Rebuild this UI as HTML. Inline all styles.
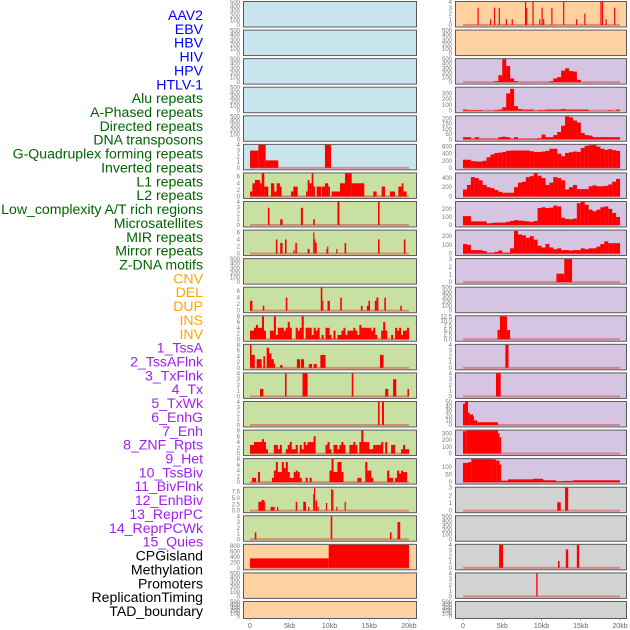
<!DOCTYPE html>
<html><head><meta charset="utf-8"><style>
html,body{margin:0;padding:0;background:#fff;}
svg{display:block;font-family:"Liberation Sans",sans-serif;}
</style></head><body>
<svg id="chart" width="630" height="630" viewBox="0 0 630 630" xmlns="http://www.w3.org/2000/svg"></svg>
<script>
const trackLabels = ["AAV2","EBV","HBV","HIV","HPV","HTLV-1","Alu repeats","A-Phased repeats","Directed repeats","DNA transposons","G-Quadruplex forming repeats","Inverted repeats","L1 repeats","L2 repeats","Low_complexity A/T rich regions","Microsatellites","MIR repeats","Mirror repeats","Z-DNA motifs","CNV","DEL","DUP","INS","INV","1_TssA","2_TssAFlnk","3_TxFlnk","4_Tx","5_TxWk","6_EnhG","7_Enh","8_ZNF_Rpts","9_Het","10_TssBiv","11_BivFlnk","12_EnhBiv","13_ReprPC","14_ReprPCWk","15_Quies","CPGisland","Methylation","Promoters","ReplicationTiming","TAD_boundary"];
const xTickValues = [0,5,10,15,20];
const xTickLabels = ["0","5kb","10kb","15kb","20kb"];
const emptyTicks = [0,100,200,300,400,500];
const ticks04 = [0,1,2,3,4];
const ticks03 = [0,1,2,3];
const htlvBars = [[0,1.05,3],[1.05,1.97,4],[1.97,3.56,1.3],[9.43,10.2,4]];
const aluBars = [[0,0.3,1.5],[0.3,0.63,4],[0.63,1.26,5],[1.26,1.47,4],[1.47,1.8,7],[1.8,2.3,3],[2.64,3.06,4],[3.06,3.35,1.5],[3.35,3.77,4],[3.77,3.98,3],[5.16,5.45,1.5],[5.45,6.0,3],[7.05,7.25,1.5],[7.25,7.46,5],[7.46,7.76,4],[7.76,7.97,7],[7.97,8.18,3],[8.39,8.93,3],[9.0,9.43,3],[9.43,9.85,4],[9.85,10.06,3],[10.27,11.32,1.5],[11.32,11.95,4],[11.95,12.79,7],[12.79,14.38,4],[15.5,15.93,1.5],[16.56,16.98,3],[17.6,18.24,1.5],[18.66,19.08,3],[19.08,19.3,4],[19.3,19.7,1.5]];
const aphasedBars = [[2.25,2.45,3],[3.8,4.1,1],[6.4,6.65,3],[7.95,8.15,1],[11.0,11.25,4],[16.1,16.3,4]];
const directedBars = [[3.25,3.45,4],[3.8,4.1,3],[4.4,4.6,4],[5.45,5.6,1],[5.7,5.9,3],[7.25,7.5,1.3],[7.95,8.1,6],[8.1,8.25,4],[8.25,8.4,3],[9.6,9.7,1.3],[9.7,9.85,2],[10.85,11.0,1.3],[11.9,12.1,3],[16.1,16.3,4],[19.35,19.55,4]];
const gquadBars = [[0,0.3,3],[1.6,1.8,1.5],[4.5,4.7,4],[8.9,9.1,7],[9.1,9.2,3],[9.75,10.05,3],[11.35,11.55,4],[13.95,14.15,1.5],[14.7,14.9,1.5],[14.9,15.1,3],[15.7,15.9,3],[15.9,16.15,4],[16.9,17.1,4],[18.9,19.1,1.5]];
const l1Bars = [[0,0.2,8],[0.2,0.6,4.5],[0.84,1.47,3],[1.68,1.89,4],[2.1,2.4,7],[2.4,2.7,5],[2.7,3.0,3],[3.0,3.15,1.5],[3.8,4.1,1],[5.9,6.3,3],[6.4,6.8,3],[7.4,7.8,1.3],[8.0,8.4,1.3],[8.85,9.5,4.5],[16.35,16.8,4.5]];
const l2Bars = [[1.26,1.68,1.3],[4.4,4.6,4],[6.6,7.25,4],[12.8,13.0,4],[17.0,17.4,1.3],[18.0,18.4,3],[19.8,20,1.3]];
const lowcompBars = [[16.1,16.3,4],[16.6,16.85,4]];
const mirrorBars = [[1.05,1.45,3.5],[1.45,1.8,4.2],[1.8,1.9,3.5],[2.6,3.1,1.5],[3.4,3.55,1.5],[5.75,5.95,3.5],[6.7,7.05,3.5],[7.3,7.45,1.5],[7.95,8.05,6.5],[8.05,8.2,9],[8.25,8.45,4],[8.5,8.65,1.5],[9.55,9.7,3],[10.2,10.35,8.5],[10.35,10.5,8],[10.85,11.0,1.5],[11.9,12.05,3.5]];
const zdnaBars = [[0.6,0.8,1.2],[10.15,10.35,4],[17.6,17.8,1.2],[18.55,18.9,3]];
const cnvBars = [[0,9.9,350],[9.9,20,850]];
const insBars = [[1.85,2.0,3],[3.45,3.6,1],[3.95,4.1,3],[4.55,4.7,3],[5.45,5.6,1],[6.2,6.35,1],[7.9,8.05,4],[8.05,8.2,3],[8.85,9.0,4],[9.7,9.85,1],[10.0,10.15,3],[10.2,10.35,1],[11.25,11.4,3],[12.75,12.9,4],[14.4,14.55,1],[15.45,15.6,2],[17.5,17.65,4],[17.7,17.85,4],[18.15,18.3,1],[19.25,19.4,3]];
const znfBars = [[11.9,12.9,1.1],[12.9,13.9,3]];
const tssbivBars = [[4.4,4.7,5],[4.7,5.6,12.5],[5.6,6.0,5]];
const bivflnkBars = [[5.4,5.8,4]];
const enhbivBars = [[4.2,4.8,4]];
const reprpcBars = [[0,0.25,46],[0.25,0.64,50],[0.64,0.85,27],[0.85,1.27,23],[1.27,1.4,19],[1.4,1.82,10],[1.82,4.45,6]];
const reprpcwkBars = [[0,0.42,330],[0.42,4.45,340],[4.45,4.66,300],[4.66,4.87,240]];
const quiesBars = [[0,0.64,125],[0.64,1.06,130],[1.06,3.81,150],[3.81,4.24,148],[4.24,4.66,140],[4.66,4.87,115],[4.87,5.72,10],[5.72,8.9,18],[8.9,10.2,22],[10.2,11.86,12],[11.86,12.9,6],[12.9,14,8],[14,20,12]];
const cpgBars = [[12.0,12.45,1.1],[13.0,13.4,3]];
const promoterBars = [[4.6,5.1,4],[12.1,12.3,1.2],[13.1,13.4,3.2],[14.5,14.8,4]];
const reptimingBars = [[9.33,9.5,4]];
const invertedBins = [3,3,4,5,4,4,8,3,0,0, 3,3,8,1.5,4,4,4,3,4,6, 4,0,0,4,3,4,8,0,4,4, 4,1.5,4,3,4,0,1.5,0,4,4, 1.5,0,3,0,1.5,1.5,3,4,1.5,3, 3,3,4,3,1.5,5,4,4,4,4, 4,3,4,1.5,0,0,3,6,3,0, 0,1.5,0,4,3,4,1.5,3,3,4];
const microsatBins = [3,3,4,4,4,4,5,4,1.5,0, 0,0,3,3,1.5,3,0,0,1.5,3, 4,1.5,1.5,3,0,3,1.5,4,3,4, 4,4,6,0,0,0,0,0,3,4, 1.5,0,3,3,1.5,3,4,3,0,0, 3,3,4,3,0,4,8,4,4,4, 1.5,1.5,3,3,3,3,4,0,4,0, 0,3,3,0,0,0,1.5,3,1.5,1.5];
const mirBins = [0,1.5,1.5,0,3.5,0,0,0,0,0, 0,1.5,4,7,3.5,3.5,7,5,7,3.5, 1.5,1.5,3.5,4,3.5,1.5,0,0,1.5,0, 1.5,0,0,0,0,0,0,0,0,0, 4,8,3.5,3.5,7,7,3.5,0,0,0, 0,0,0,0,1.5,1.5,0,0,7,4, 4,1.5,0,0,0,0,0,0,0,4, 1.5,1.5,0,1.5,4,3,4,3.5,3.5,0];
const tssaBins = [0,0,0,0,0,0,0,0,20,150, 500,350,80,20,0,0,0,0,0,0, 0,0,20,80,110,250,300,240,230,50, 0,0,0,0,0,0,0,0,0,0];
const tssaflnkBins = [20,10,10,10,10,0,0,0,10,20, 60,300,380,80,30,20,20,20,0,10, 10,20,20,20,20,30,20,20,20,20, 20,20,0,0,0,0,0,10,0,20];
const txflnkBins = [20,20,5,20,5,5,5,5,5,20, 25,20,5,20,5,5,5,5,5,10, 45,20,20,40,70,130,220,210,180,160, 60,40,35,20,20,20,20,20,20,20];
const txBins = [230,230,190,180,180,200,300,380,420,430, 450,480,490,490,490,490,490,470,450,450, 460,480,540,540,400,330,420,440,460,450, 560,620,640,650,600,540,510,530,500,480];
const txwkBins = [150,250,420,400,350,250,200,180,140,100, 80,80,80,200,300,320,420,440,500,450, 400,250,300,420,400,350,150,200,250,160, 160,160,220,240,220,220,230,260,320,380];
const enhgBins = [110,110,45,45,45,45,20,25,30,30, 30,40,50,60,55,50,45,40,50,210, 220,210,215,240,230,90,75,70,80,270, 285,250,190,170,190,220,230,200,150,100];
const enhBins = [110,100,40,40,40,30,10,10,20,35, 10,10,60,260,220,210,180,200,160,90, 70,110,70,50,60,40,40,35,40,40, 60,50,60,60,80,110,140,120,120,120];

const BLUE="#c8e4ec", GREEN="#c8e0a2", PEACH="#ffd0a0", LAV="#d5c5e2", GRAY="#d2d2d2";
const panels = [
 {c:0,r:0,bg:BLUE,ymax:500,ticks:emptyTicks},
 {c:0,r:1,bg:BLUE,ymax:500,ticks:emptyTicks},
 {c:0,r:2,bg:BLUE,ymax:500,ticks:emptyTicks},
 {c:0,r:3,bg:BLUE,ymax:500,ticks:emptyTicks},
 {c:0,r:4,bg:BLUE,ymax:500,ticks:emptyTicks},
 {c:0,r:5,bg:BLUE,ymax:4,ticks:ticks04,bars:htlvBars},
 {c:0,r:6,bg:GREEN,ymax:7,ticks:[0,2,4,6],bars:aluBars},
 {c:0,r:7,bg:GREEN,ymax:4,ticks:ticks04,bars:aphasedBars},
 {c:0,r:8,bg:GREEN,ymax:6.5,ticks:[0,2,4,6],bars:directedBars},
 {c:0,r:9,bg:GREEN,ymax:500,ticks:emptyTicks},
 {c:0,r:10,bg:GREEN,ymax:7,ticks:[0,2,4,6],bars:gquadBars},
 {c:0,r:11,bg:GREEN,ymax:8,ticks:[0,2,4,6,8],bins:invertedBins},
 {c:0,r:12,bg:GREEN,ymax:8,ticks:[0,2,4,6,8],bars:l1Bars},
 {c:0,r:13,bg:GREEN,ymax:4,ticks:ticks04,bars:l2Bars},
 {c:0,r:14,bg:GREEN,ymax:4,ticks:ticks04,bars:lowcompBars},
 {c:0,r:15,bg:GREEN,ymax:8,ticks:[0,2,4,6,8],bins:microsatBins},
 {c:0,r:16,bg:GREEN,ymax:8,ticks:[0,2,4,6,8],bins:mirBins},
 {c:0,r:17,bg:GREEN,ymax:9,ticks:[0,2.5,5,7.5],dec:true,bars:mirrorBars},
 {c:0,r:18,bg:GREEN,ymax:4,ticks:ticks04,bars:zdnaBars},
 {c:0,r:19,bg:PEACH,ymax:850,ticks:[0,200,400,600,800],bars:cnvBars},
 {c:0,r:20,bg:PEACH,ymax:500,ticks:emptyTicks},
 {c:0,r:21,bg:PEACH,ymax:500,ticks:emptyTicks},
 {c:1,r:0,bg:PEACH,ymax:4,ticks:ticks04,bars:insBars},
 {c:1,r:1,bg:PEACH,ymax:500,ticks:emptyTicks},
 {c:1,r:2,bg:LAV,ymax:500,ticks:emptyTicks,bins:tssaBins},
 {c:1,r:3,bg:LAV,ymax:400,ticks:[0,100,200,300],bins:tssaflnkBins},
 {c:1,r:4,bg:LAV,ymax:220,ticks:[0,50,100,150,200],bins:txflnkBins},
 {c:1,r:5,bg:LAV,ymax:650,ticks:[0,200,400,600],bins:txBins},
 {c:1,r:6,bg:LAV,ymax:500,ticks:[0,200,400],bins:txwkBins},
 {c:1,r:7,bg:LAV,ymax:285,ticks:[0,100,200],bins:enhgBins},
 {c:1,r:8,bg:LAV,ymax:265,ticks:[0,100,200],bins:enhBins},
 {c:1,r:9,bg:LAV,ymax:3,ticks:ticks03,bars:znfBars},
 {c:1,r:10,bg:LAV,ymax:500,ticks:emptyTicks},
 {c:1,r:11,bg:LAV,ymax:12.5,ticks:[0,2.5,5,7.5,10,12.5],dec:true,bars:tssbivBars},
 {c:1,r:12,bg:LAV,ymax:4,ticks:ticks04,bars:bivflnkBars},
 {c:1,r:13,bg:LAV,ymax:4,ticks:ticks04,bars:enhbivBars},
 {c:1,r:14,bg:LAV,ymax:50,ticks:[0,10,20,30,40,50],bars:reprpcBars},
 {c:1,r:15,bg:LAV,ymax:340,ticks:[0,100,200,300],bars:reprpcwkBars},
 {c:1,r:16,bg:LAV,ymax:150,ticks:[0,50,100],bars:quiesBars},
 {c:1,r:17,bg:GRAY,ymax:3,ticks:ticks03,bars:cpgBars},
 {c:1,r:18,bg:GRAY,ymax:500,ticks:emptyTicks},
 {c:1,r:19,bg:GRAY,ymax:4,ticks:ticks04,bars:promoterBars},
 {c:1,r:20,bg:GRAY,ymax:4,ticks:ticks04,bars:reptimingBars},
 {c:1,r:21,bg:GRAY,ymax:500,ticks:emptyTicks}
];
const labelColors = i => i<6?"#0000ff":i<19?"#006400":i<24?"#ffa500":i<39?"#a020f0":"#000000";

const NS="http://www.w3.org/2000/svg";
const svg=document.getElementById('chart');
function mk(tag,attrs,parent){const e=document.createElementNS(NS,tag);for(const k in attrs)e.setAttribute(k,attrs[k]);(parent||svg).appendChild(e);return e;}

const colBox=[{l:243,r:416,x0:250,x1:409},{l:455,r:626,x0:463,x1:620}];
function xScale(c,kb){const b=colBox[c];return b.x0+(b.x1-b.x0)*kb/20;}
function rowTop(r){return 1+r*28.57;}
function rowH(r){return r===21?17:25.5;}
function yScale(p,v){const t=rowTop(p.r),h=rowH(p.r);const y0=t+h-1.5,y1=t+1;return y0-(y0-y1)*Math.min(v,p.ymax)/p.ymax;}

trackLabels.forEach((txt,i)=>{
  const t=mk('text',{x:203,y:(15+i*13.86+5).toFixed(1),'text-anchor':'end','font-size':'14.1',fill:labelColors(i)});
  
  
  t.textContent=txt;
});

panels.forEach(p=>{
  const b=colBox[p.c],t=rowTop(p.r),h=rowH(p.r);
  const g=mk('g',{});
  
  
  mk('rect',{x:b.l+0.5,y:t+0.5,width:b.r-b.l,height:h,fill:p.bg,stroke:'#5a5a5a','stroke-width':'1'},g);
  p.ticks.forEach(v=>{
    const tl=mk('text',{x:b.l-3,y:(yScale(p,v)+2).toFixed(1),'text-anchor':'end','font-size':'6',fill:'#777'},g);
    
    
    tl.textContent=p.dec?v.toFixed(1):String(v);
  });
  const hasData=!!(p.bars||p.bins);
  if(hasData){
    mk('rect',{x:xScale(p.c,0),y:yScale(p,0)-1,width:xScale(p.c,20)-xScale(p.c,0),height:2,fill:'rgba(220,60,60,0.5)'},g);
  }
  const draw=(s,e,v)=>{
    if(v<=0)return;
    const x=xScale(p.c,s),w=Math.max(1,xScale(p.c,e)-x),y=yScale(p,v);
    const r=mk('rect',{x:x.toFixed(2),y:y.toFixed(2),width:w.toFixed(2),height:(yScale(p,0)-y).toFixed(2),fill:'#ff0000'},g);
    
    
  };
  if(p.bars)p.bars.forEach(d=>draw(d[0],d[1],d[2]));
  if(p.bins){const bw=20/p.bins.length;p.bins.forEach((v,i)=>draw(i*bw,(i+1)*bw+0.01,v));}
});

[0,1].forEach(c=>{
  xTickValues.forEach((v,i)=>{
    const x=xScale(c,v);
    mk('line',{x1:x,y1:618.5,x2:x,y2:620.5,stroke:'#888','stroke-width':'0.7'});
    const tl=mk('text',{x:x,y:628,'text-anchor':'middle','font-size':'7',fill:'#666'});
    
    
    tl.textContent=xTickLabels[i];
  });
});
</script>
</body></html>
